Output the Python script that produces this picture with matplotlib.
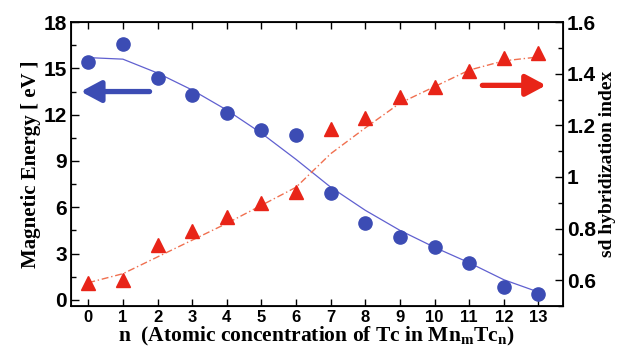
import matplotlib.pyplot as plt
import matplotlib.ticker as mticker
import numpy as np

plt.rcParams['font.family'] = ['Liberation Sans', 'DejaVu Sans']
plt.rcParams['mathtext.fontset'] = 'custom'
plt.rcParams['mathtext.rm'] = 'Liberation Serif:bold'
plt.rcParams['mathtext.bf'] = 'Liberation Serif:bold'

n = list(range(14))
# magnetic energy [eV], blue circles (left axis)
energy = [15.4, 16.6, 14.4, 13.3, 12.1, 11.0, 10.7, 6.9, 5.0, 4.1, 3.4, 2.4, 0.8, 0.4]
# fitted curve through the energy points
energy_fit = [15.7, 15.6, 14.7, 13.6, 12.3, 10.8, 9.1, 7.3, 5.8, 4.5, 3.4, 2.4, 1.3, 0.5]
# sd hybridization index, red triangles (right axis)
sd_index = [0.59, 0.60, 0.735, 0.79, 0.845, 0.90, 0.94, 1.185, 1.228, 1.31, 1.35, 1.41, 1.46, 1.48]
sd_fit = [0.59, 0.625, 0.69, 0.755, 0.82, 0.89, 0.96, 1.09, 1.19, 1.286, 1.35, 1.414, 1.45, 1.465]

blue = '#3c4cb4'
red = '#e82418'

fig = plt.figure(figsize=(6.28, 3.57), dpi=100)
ax = fig.add_axes([0.113, 0.143, 0.783, 0.795])
ax2 = ax.twinx()

ax.plot(n, energy_fit, color='#6060d0', lw=0.9, zorder=2)
ax.plot(n, energy, 'o', color=blue, ms=9.5, zorder=3)
ax2.plot(n, sd_fit, color='#f07050', lw=1.0, ls=(0, (5, 2, 1, 2)), zorder=2)
ax2.plot(n, sd_index, '^', color=red, ms=10.5, zorder=3)

ax.set_xlim(-0.5, 13.7)
ax.set_ylim(-0.4, 18)
ax2.set_ylim(0.5, 1.6)

ax.set_xticks(n)
ax.set_yticks(np.arange(0, 19, 3))
ax.yaxis.set_minor_locator(mticker.MultipleLocator(1.5))
ax2.set_yticks([0.6, 0.8, 1.0, 1.2, 1.4, 1.6])
ax2.yaxis.set_minor_locator(mticker.MultipleLocator(0.1))
ax2.yaxis.set_major_formatter(mticker.FormatStrFormatter('%g'))

ax.tick_params(axis='x', which='both', direction='in', top=True, length=5, width=1)
ax.tick_params(axis='y', which='major', direction='in', length=6, width=1)
ax.tick_params(axis='y', which='minor', direction='in', length=3.5, width=1)
ax2.tick_params(axis='y', which='major', direction='in', length=6, width=1)
ax2.tick_params(axis='y', which='minor', direction='in', length=3.5, width=1)
ax.tick_params(axis='y', labelsize=15, pad=3)
ax2.tick_params(axis='y', labelsize=15, pad=3)
ax.tick_params(axis='x', labelsize=12, pad=3)
for a in (ax, ax2):
    for lab in a.get_xticklabels() + a.get_yticklabels():
        lab.set_fontweight('bold')
for s in ax.spines.values():
    s.set_linewidth(1.3)

serif = ['Liberation Serif', 'DejaVu Serif']
ax.set_ylabel('Magnetic Energy [ eV ]', family=serif, fontweight='bold', fontsize=15, labelpad=2)
ax2.set_ylabel('sd hybridization index', family=serif, fontweight='bold', fontsize=14, labelpad=2)
ax.set_xlabel(r'n  (Atomic concentration of Tc in Mn$_\mathbf{m}$Tc$_\mathbf{n}$)',
              family=serif, fontweight='bold', fontsize=15.5, labelpad=0)

arrow = '-|>,head_length=0.6,head_width=0.32'
ax.annotate('', xy=(-0.3, 13.5), xytext=(1.85, 13.5),
            arrowprops=dict(arrowstyle=arrow, color=blue, lw=3.8, mutation_scale=20))
ax2.annotate('', xy=(13.3, 1.355), xytext=(11.3, 1.355),
             arrowprops=dict(arrowstyle=arrow, color=red, lw=3.8, mutation_scale=20))

fig.savefig('out.png', dpi=100)
